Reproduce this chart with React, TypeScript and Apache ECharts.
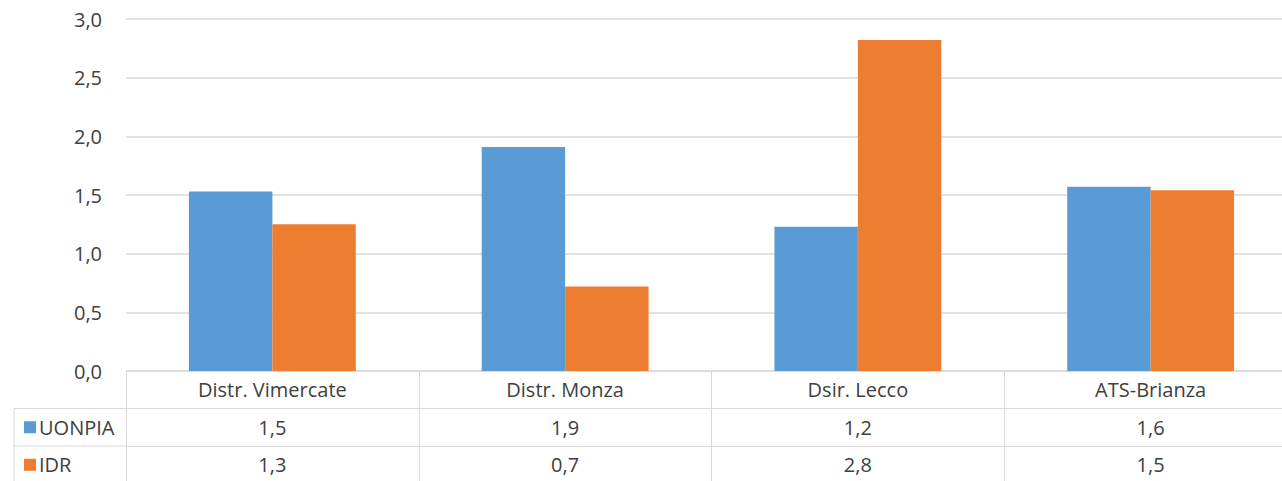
import React, { useEffect, useRef } from "react";
import * as echarts from "echarts";

const categories = ["Distr. Vimercate", "Distr. Monza", "Dsir. Lecco", "ATS-Brianza"];
const seriesNames = ["UONPIA", "IDR"];
const uonpia = [1.53, 1.91, 1.23, 1.57];
const idr = [1.25, 0.72, 2.82, 1.54];
const yMin = 0;
const yMax = 3;
const yInterval = 0.5;

const fmt = (v: number) => v.toFixed(1).replace(".", ",");

const TEXT = "#404040";
const LINE = "#d9d9d9";
const FONT = "'Open Sans', 'Noto Sans', sans-serif";
const FS = 20;
const ROW = 37.5;

export default function App() {
  const ref = useRef<HTMLDivElement>(null);

  useEffect(() => {
    if (!ref.current) return;
    const chart = echarts.init(ref.current, undefined, { renderer: "svg" });

    const tableAxis = (data: string[], offset: number) => ({
      type: "category",
      data,
      position: "bottom",
      offset,
      boundaryGap: true,
      axisLine: { show: true, lineStyle: { color: LINE, width: 1 } },
      axisTick: { show: true, interval: 0, length: ROW, lineStyle: { color: LINE, width: 1 } },
      axisLabel: {
        interval: 0,
        margin: ROW / 2,
        verticalAlign: "middle",
        fontSize: FS,
        color: TEXT,
        fontFamily: FONT,
      },
      splitLine: { show: false },
    });

    const legendFor = (name: string, top: number) => ({
      orient: "horizontal",
      left: 24,
      top,
      padding: 0,
      icon: "rect",
      itemWidth: 12,
      itemHeight: 12,
      data: [name],
      textStyle: { fontSize: FS, color: TEXT, fontFamily: FONT, lineHeight: 20, padding: [0, 0, 0, -2] },
      selectedMode: false,
    });

    chart.setOption({
      animation: false,
      backgroundColor: "#ffffff",
      textStyle: { fontFamily: FONT },
      grid: { left: 126, right: 3, top: 19, bottom: 110, containLabel: false },
      legend: [
        legendFor(seriesNames[0], 371 + ROW * 1.5 - 10),
        legendFor(seriesNames[1], 371 + ROW * 2.5 - 10),
      ],
      xAxis: [
        tableAxis(categories, 0),
        tableAxis(uonpia.map(fmt), ROW),
        tableAxis(idr.map(fmt), ROW * 2),
      ],
      yAxis: {
        type: "value",
        min: yMin,
        max: yMax,
        interval: yInterval,
        axisLine: { show: false },
        axisTick: { show: false },
        axisLabel: {
          margin: 24,
          fontSize: FS,
          color: TEXT,
          fontFamily: FONT,
          formatter: (v: number) => fmt(v),
        },
        splitLine: { show: true, lineStyle: { color: LINE, width: 1.5 } },
      },
      series: [
        {
          name: seriesNames[0],
          type: "bar",
          xAxisIndex: 0,
          data: uonpia,
          itemStyle: { color: "#5b9bd5" },
          barGap: "0%",
          barCategoryGap: "43%",
        },
        {
          name: seriesNames[1],
          type: "bar",
          xAxisIndex: 0,
          data: idr,
          itemStyle: { color: "#ed7d31" },
          barGap: "0%",
          barCategoryGap: "43%",
        },
      ],
      graphic: [
        { type: "line", shape: { x1: 14, y1: 371 + ROW, x2: 126, y2: 371 + ROW }, style: { stroke: LINE, lineWidth: 1 } },
        { type: "line", shape: { x1: 14, y1: 371 + ROW * 2, x2: 126, y2: 371 + ROW * 2 }, style: { stroke: LINE, lineWidth: 1 } },
        { type: "line", shape: { x1: 14, y1: 371 + ROW, x2: 14, y2: 481 }, style: { stroke: LINE, lineWidth: 1 } },
      ],
    });

    return () => chart.dispose();
  }, []);

  return (
    <div
      style={{
        position: "fixed",
        left: 0,
        top: 0,
        width: 1282,
        height: 481,
        overflow: "hidden",
        background: "#fff",
      }}
    >
      <div ref={ref} style={{ width: 1300, height: 481 }} />
    </div>
  );
}
